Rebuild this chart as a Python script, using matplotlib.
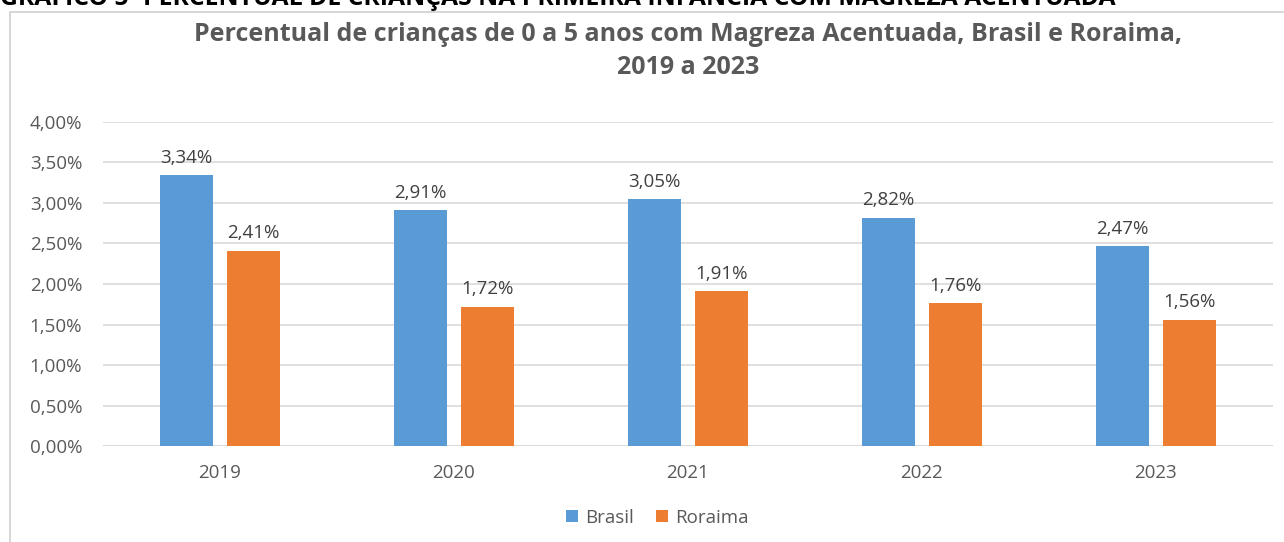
import matplotlib
matplotlib.use('Agg')

import numpy as np
import matplotlib.pyplot as plt
from matplotlib.patches import Rectangle

anos = ["2019", "2020", "2021", "2022", "2023"]
brasil = [3.34, 2.91, 3.05, 2.82, 2.47]
roraima = [2.41, 1.72, 1.91, 1.76, 1.56]
yticks = [0, 0.5, 1.0, 1.5, 2.0, 2.5, 3.0, 3.5, 4.0]

cinza = "#595959"
plt.rcParams['font.family'] = ['Open Sans', 'DejaVu Sans']

fig = plt.figure(figsize=(12.84, 5.42), dpi=100)
ax = fig.add_axes([0.0802, 0.177, 0.911, 0.598])

# moldura do grafico
fig.patches.append(Rectangle((0.008, -0.01), 0.995, 0.988, transform=fig.transFigure,
                             fill=False, edgecolor="#d0d0d0", linewidth=1.2))
# legenda da figura, cortada no topo (como na imagem original)
fig.text(0.0, 1.007, "GRÁFICO 5- PERCENTUAL DE CRIANÇAS NA PRIMEIRA INFÂNCIA COM MAGREZA ACENTUADA",
         ha="left", va="center", fontsize=17.8, fontweight="bold", color="black")

x = np.arange(len(anos))
w = 0.226
off = 0.143
b1 = ax.bar(x - off, brasil, w, color="#5B9BD5", label="Brasil", zorder=2)
b2 = ax.bar(x + off, roraima, w, color="#ED7D31", label="Roraima", zorder=2)

for bars, vals in ((b1, brasil), (b2, roraima)):
    for b, v in zip(bars, vals):
        ax.annotate(f"{v:.2f}%".replace(".", ","), (b.get_x() + b.get_width() / 2, v),
                    xytext=(0, 6), textcoords="offset points", ha="center", va="bottom",
                    fontsize=13.5, color="#404040")

ax.set_xlim(-0.5, len(anos) - 0.5)
ax.set_ylim(0, 4.0)
ax.set_yticks(yticks)
ax.set_yticklabels([f"{t:.2f}%".replace(".", ",") for t in yticks])
ax.set_xticks(x)
ax.set_xticklabels(anos)
ax.tick_params(axis="both", length=0, labelsize=13.5, labelcolor=cinza)
ax.tick_params(axis="x", pad=13)
ax.tick_params(axis="y", pad=15)
ax.yaxis.grid(True, color="#d9d9d9", linewidth=1.2, zorder=0)
for s in ax.spines.values():
    s.set_visible(False)
ax.axhline(0, color="#d9d9d9", linewidth=1.2, zorder=1)

fig.text(0.536, 0.937, "Percentual de crianças de 0 a 5 anos com Magreza Acentuada, Brasil e Roraima,",
         ha="center", va="center", fontsize=18, fontweight="bold", color=cinza)
fig.text(0.536, 0.876, "2019 a 2023", ha="center", va="center", fontsize=18,
         fontweight="bold", color=cinza)

fig.legend(loc="center", bbox_to_anchor=(0.512, 0.045), ncol=2, frameon=False,
           fontsize=13.5, labelcolor=cinza, handlelength=0.6, handleheight=0.6,
           handletextpad=0.4, columnspacing=1.2)

fig.savefig("out.png", dpi=100)
